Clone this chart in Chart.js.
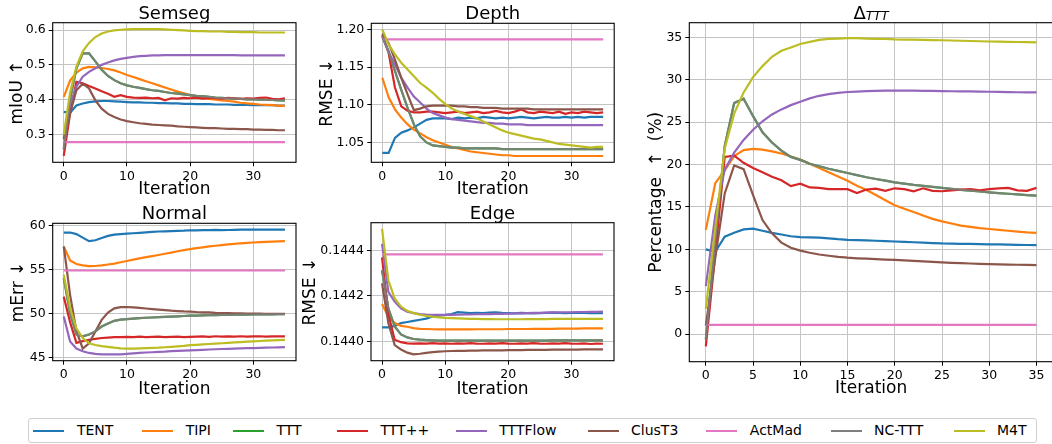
<!DOCTYPE html>
<html>
<head>
<meta charset="utf-8">
<script src="https://cdn.jsdelivr.net/npm/chart.js@4.4.0/dist/chart.umd.min.js"></script>
<style>
  html, body { margin: 0; padding: 0; width: 1052px; height: 444px; overflow: hidden; background: #fff; }
  .panel { position: absolute; }
  #legend { position: absolute; left: 28px; top: 418px; width: 1009px; height: 25px; border: 1px solid #d0d0d0; border-radius: 3px; box-sizing: border-box; font-family: "DejaVu Sans", sans-serif; font-size: 14px; color: #000; }
  .lg-line { position: absolute; top: 11px; width: 31px; height: 2px; }
  .lg-text { position: absolute; top: 3px; white-space: nowrap; }
</style>
</head>
<body>
<div id="legend"></div>
<script>
/* ---------- data ---------- */
const methods = ['TENT', 'TIPI', 'TTT', 'TTT++', 'TTTFlow', 'ClusT3', 'ActMad', 'NC-TTT', 'M4T'];
const lineColors = ['#1f77b4', '#ff7f0e', '#2ca02c', '#d62728', '#9467bd', '#8c564b', '#e377c2', 'rgba(127,127,127,0.86)', '#bcbd22'];
const legendColors = ['#1f77b4', '#ff7f0e', '#2ca02c', '#d62728', '#9467bd', '#8c564b', '#e377c2', '#7f7f7f', '#bcbd22'];

const iterations = [0,1,2,3,4,5,6,7,8,9,10,11,12,13,14,15,16,17,18,19,20,21,22,23,24,25,26,27,28,29,30,31,32,33,34,35];
const smallXTicks = [0, 10, 20, 30];
const deltaXTicks = [0, 5, 10, 15, 20, 25, 30, 35];
const semsegYTicks = [0.3, 0.4, 0.5, 0.6];
const depthYTicks = [1.05, 1.10, 1.15, 1.20];
const normalYTicks = [45, 50, 55, 60];
const edgeYTicks = [0.1440, 0.1442, 0.1444];
const deltaYTicks = [0, 5, 10, 15, 20, 25, 30, 35];

// Semseg (mIoU)
const semsegTent = [0.365,0.362,0.383,0.389,0.393,0.395,0.396,0.396,0.395,0.394,0.393,0.392,0.392,0.391,0.391,0.390,0.390,0.389,0.389,0.388,0.388,0.387,0.387,0.387,0.386,0.386,0.386,0.385,0.385,0.385,0.384,0.384,0.384,0.384,0.383,0.383];
const semsegTipi = [0.408,0.455,0.478,0.490,0.494,0.493,0.491,0.488,0.484,0.478,0.471,0.465,0.459,0.453,0.447,0.441,0.435,0.429,0.423,0.418,0.413,0.409,0.405,0.402,0.400,0.398,0.396,0.394,0.391,0.389,0.388,0.386,0.385,0.384,0.383,0.382];
const semsegTttpp = [0.238,0.360,0.451,0.447,0.439,0.432,0.424,0.417,0.408,0.413,0.408,0.406,0.405,0.406,0.404,0.405,0.398,0.404,0.403,0.405,0.404,0.406,0.403,0.405,0.404,0.403,0.405,0.404,0.402,0.404,0.403,0.405,0.406,0.402,0.401,0.404];
const semsegFlow = [0.290,0.385,0.437,0.466,0.480,0.490,0.500,0.507,0.513,0.517,0.520,0.523,0.525,0.526,0.527,0.527,0.528,0.528,0.528,0.528,0.528,0.528,0.528,0.528,0.528,0.528,0.528,0.528,0.527,0.527,0.527,0.527,0.527,0.527,0.527,0.527];
const semsegClus = [0.285,0.360,0.427,0.446,0.432,0.398,0.374,0.359,0.350,0.343,0.338,0.335,0.332,0.330,0.328,0.327,0.326,0.325,0.323,0.322,0.321,0.320,0.319,0.318,0.318,0.317,0.316,0.316,0.315,0.315,0.314,0.314,0.313,0.313,0.312,0.312];
const semsegActMad = [0.278,0.278,0.278,0.278,0.278,0.278,0.278,0.278,0.278,0.278,0.278,0.278,0.278,0.278,0.278,0.278,0.278,0.278,0.278,0.278,0.278,0.278,0.278,0.278,0.278,0.278,0.278,0.278,0.278,0.278,0.278,0.278,0.278,0.278,0.278,0.278];
const semsegNc = [0.257,0.400,0.490,0.533,0.533,0.510,0.486,0.468,0.456,0.447,0.441,0.437,0.434,0.430,0.427,0.425,0.422,0.419,0.417,0.415,0.413,0.411,0.410,0.408,0.406,0.405,0.404,0.403,0.402,0.401,0.401,0.400,0.399,0.399,0.398,0.398];
const semsegTtt = semsegNc; // TTT is hidden underneath NC-TTT
const semsegM4t = [0.300,0.420,0.495,0.539,0.563,0.580,0.590,0.596,0.599,0.601,0.602,0.603,0.603,0.603,0.603,0.603,0.602,0.601,0.600,0.599,0.598,0.597,0.597,0.596,0.596,0.596,0.595,0.595,0.594,0.594,0.594,0.593,0.593,0.593,0.593,0.593];

// Depth (RMSE)
const depthTent = [1.036,1.036,1.056,1.063,1.066,1.070,1.075,1.080,1.082,1.082,1.082,1.081,1.083,1.082,1.083,1.082,1.084,1.083,1.082,1.083,1.082,1.083,1.084,1.083,1.082,1.083,1.084,1.083,1.083,1.084,1.083,1.084,1.083,1.084,1.084,1.084];
const depthTipi = [1.136,1.110,1.094,1.083,1.074,1.067,1.062,1.057,1.053,1.050,1.047,1.044,1.042,1.040,1.038,1.037,1.036,1.035,1.034,1.033,1.033,1.032,1.032,1.032,1.032,1.032,1.032,1.032,1.032,1.032,1.032,1.032,1.032,1.032,1.032,1.032];
const depthTttpp = [1.193,1.169,1.123,1.098,1.092,1.090,1.090,1.091,1.091,1.090,1.089,1.090,1.091,1.089,1.090,1.091,1.089,1.090,1.092,1.090,1.089,1.091,1.094,1.090,1.089,1.091,1.090,1.089,1.091,1.088,1.090,1.089,1.091,1.090,1.089,1.090];
const depthFlow = [1.190,1.170,1.154,1.136,1.123,1.111,1.103,1.095,1.089,1.086,1.083,1.081,1.080,1.079,1.078,1.077,1.076,1.076,1.075,1.075,1.074,1.074,1.074,1.073,1.073,1.073,1.073,1.073,1.073,1.073,1.073,1.073,1.073,1.073,1.073,1.073];
const depthClus = [1.195,1.182,1.160,1.136,1.114,1.093,1.095,1.098,1.099,1.099,1.099,1.099,1.098,1.098,1.097,1.097,1.096,1.096,1.096,1.095,1.095,1.095,1.095,1.095,1.094,1.094,1.094,1.094,1.094,1.094,1.094,1.094,1.094,1.094,1.094,1.094];
const depthActMad = [1.187,1.187,1.187,1.187,1.187,1.187,1.187,1.187,1.187,1.187,1.187,1.187,1.187,1.187,1.187,1.187,1.187,1.187,1.187,1.187,1.187,1.187,1.187,1.187,1.187,1.187,1.187,1.187,1.187,1.187,1.187,1.187,1.187,1.187,1.187,1.187];
const depthNc = [1.191,1.171,1.145,1.120,1.096,1.074,1.058,1.050,1.046,1.045,1.044,1.043,1.043,1.042,1.042,1.042,1.042,1.042,1.042,1.041,1.041,1.041,1.041,1.041,1.041,1.041,1.041,1.041,1.041,1.041,1.041,1.041,1.041,1.041,1.041,1.041];
const depthTtt = depthNc;
const depthM4t = [1.200,1.180,1.167,1.156,1.147,1.138,1.129,1.123,1.116,1.108,1.101,1.095,1.091,1.088,1.085,1.082,1.078,1.074,1.070,1.066,1.063,1.061,1.059,1.057,1.055,1.054,1.052,1.050,1.048,1.047,1.046,1.045,1.044,1.043,1.044,1.044];

// Normal (mErr)
const normalTent = [59.18,59.18,59.0,58.6,58.2,58.3,58.55,58.8,58.95,59.0,59.06,59.1,59.15,59.2,59.25,59.3,59.32,59.35,59.38,59.4,59.44,59.42,59.45,59.45,59.48,59.45,59.47,59.48,59.5,59.5,59.5,59.52,59.5,59.5,59.51,59.51];
const normalTipi = [57.6,56.0,55.6,55.45,55.36,55.38,55.45,55.55,55.65,55.8,55.95,56.1,56.25,56.38,56.5,56.63,56.77,56.9,57.05,57.18,57.3,57.4,57.5,57.6,57.68,57.76,57.83,57.9,57.96,58.0,58.05,58.09,58.12,58.15,58.18,58.2];
const normalTttpp = [51.9,49.0,46.64,46.85,47.0,47.1,47.2,47.25,47.3,47.3,47.32,47.3,47.35,47.3,47.33,47.35,47.3,47.32,47.35,47.3,47.33,47.35,47.38,47.33,47.4,47.35,47.38,47.35,47.4,47.35,47.38,47.4,47.36,47.38,47.4,47.39];
const normalFlow = [49.64,46.8,46.0,45.7,45.5,45.4,45.35,45.33,45.33,45.35,45.4,45.45,45.5,45.55,45.58,45.62,45.65,45.7,45.73,45.77,45.8,45.83,45.86,45.89,45.92,45.95,45.97,46.0,46.02,46.04,46.06,46.08,46.1,46.12,46.14,46.16];
const normalClus = [57.6,52.1,48.0,46.0,46.6,47.95,49.26,50.1,50.57,50.7,50.72,50.68,50.62,50.55,50.48,50.42,50.36,50.3,50.26,50.22,50.2,50.15,50.12,50.1,50.06,50.04,50.02,50.0,49.99,49.98,49.97,49.96,49.95,49.95,49.94,49.94];
const normalActMad = [54.87,54.87,54.87,54.87,54.87,54.87,54.87,54.87,54.87,54.87,54.87,54.87,54.87,54.87,54.87,54.87,54.87,54.87,54.87,54.87,54.87,54.87,54.87,54.87,54.87,54.87,54.87,54.87,54.87,54.87,54.87,54.87,54.87,54.87,54.87,54.87];
const normalNc = [54.0,50.0,47.6,47.4,47.6,47.95,48.5,48.85,49.15,49.28,49.34,49.4,49.45,49.5,49.53,49.56,49.6,49.63,49.66,49.7,49.73,49.75,49.77,49.79,49.8,49.82,49.83,49.84,49.85,49.86,49.87,49.88,49.88,49.89,49.9,49.9];
const normalTtt = normalNc;
const normalM4t = [54.39,50.6,48.3,47.2,46.6,46.4,46.28,46.2,46.1,46.02,46.0,46.0,46.02,46.05,46.08,46.1,46.15,46.2,46.25,46.3,46.38,46.42,46.47,46.52,46.56,46.6,46.65,46.7,46.74,46.78,46.82,46.86,46.9,46.93,46.96,46.98];

// Edge (RMSE)
const edgeTent = [0.144061,0.144061,0.144068,0.144080,0.144085,0.144090,0.144095,0.144100,0.144109,0.144113,0.144116,0.144120,0.144128,0.144126,0.144124,0.144125,0.144124,0.144126,0.144127,0.144125,0.144124,0.144123,0.144125,0.144124,0.144123,0.144124,0.144125,0.144126,0.144125,0.144124,0.144125,0.144126,0.144125,0.144124,0.144124,0.144124];
const edgeTipi = [0.144164,0.144109,0.144080,0.144068,0.144064,0.144058,0.144055,0.144054,0.144053,0.144052,0.144052,0.144052,0.144052,0.144052,0.144052,0.144053,0.144053,0.144053,0.144053,0.144053,0.144054,0.144054,0.144054,0.144054,0.144055,0.144055,0.144055,0.144055,0.144056,0.144056,0.144056,0.144056,0.144057,0.144057,0.144057,0.144057];
const edgeTttpp = [0.144370,0.144120,0.144007,0.143996,0.143991,0.143990,0.143991,0.143990,0.143992,0.143990,0.143991,0.143989,0.143991,0.143990,0.143992,0.143990,0.143989,0.143991,0.143990,0.143992,0.143990,0.143989,0.143991,0.143990,0.143992,0.143990,0.143989,0.143991,0.143990,0.143992,0.143990,0.143989,0.143991,0.143988,0.143990,0.143989];
const edgeFlow = [0.144429,0.144218,0.144175,0.144145,0.144130,0.144124,0.144120,0.144118,0.144117,0.144116,0.144116,0.144116,0.144117,0.144118,0.144118,0.144119,0.144120,0.144120,0.144121,0.144121,0.144122,0.144123,0.144123,0.144124,0.144125,0.144125,0.144126,0.144127,0.144127,0.144128,0.144128,0.144129,0.144129,0.144130,0.144130,0.144131];
const edgeClus = [0.144255,0.144080,0.143983,0.143964,0.143950,0.143942,0.143945,0.143949,0.143952,0.143954,0.143956,0.143957,0.143958,0.143958,0.143959,0.143959,0.143960,0.143960,0.143960,0.143960,0.143961,0.143961,0.143961,0.143962,0.143962,0.143962,0.143962,0.143963,0.143963,0.143963,0.143963,0.143963,0.143964,0.143964,0.143964,0.143964];
const edgeActMad = [0.144383,0.144383,0.144383,0.144383,0.144383,0.144383,0.144383,0.144383,0.144383,0.144383,0.144383,0.144383,0.144383,0.144383,0.144383,0.144383,0.144383,0.144383,0.144383,0.144383,0.144383,0.144383,0.144383,0.144383,0.144383,0.144383,0.144383,0.144383,0.144383,0.144383,0.144383,0.144383,0.144383,0.144383,0.144383,0.144383];
const edgeNc = [0.144313,0.144145,0.144065,0.144030,0.144017,0.144010,0.144007,0.144005,0.144004,0.144003,0.144003,0.144003,0.144003,0.144003,0.144003,0.144003,0.144003,0.144003,0.144003,0.144003,0.144003,0.144003,0.144003,0.144003,0.144003,0.144003,0.144003,0.144004,0.144004,0.144004,0.144004,0.144004,0.144004,0.144004,0.144004,0.144004];
const edgeTtt = edgeNc;
const edgeM4t = [0.144495,0.144269,0.144189,0.144153,0.144134,0.144124,0.144117,0.144112,0.144108,0.144105,0.144103,0.144102,0.144101,0.144100,0.144099,0.144099,0.144098,0.144098,0.144097,0.144097,0.144097,0.144097,0.144097,0.144098,0.144098,0.144098,0.144098,0.144099,0.144099,0.144099,0.144099,0.144099,0.144099,0.144099,0.144099,0.144099];

// Delta_TTT (%)
const deltaTent = [10.0,9.72,11.5,11.97,12.36,12.44,12.2,11.95,11.75,11.55,11.45,11.42,11.38,11.3,11.2,11.13,11.1,11.06,11.02,10.97,10.93,10.88,10.84,10.8,10.75,10.7,10.68,10.66,10.64,10.62,10.6,10.58,10.56,10.54,10.52,10.5];
const deltaTipi = [12.3,17.8,19.3,21.0,21.7,21.85,21.75,21.55,21.3,20.95,20.6,20.1,19.6,19.1,18.6,18.1,17.5,17.0,16.4,15.8,15.2,14.8,14.4,14.0,13.6,13.3,13.05,12.8,12.65,12.5,12.4,12.3,12.2,12.1,12.0,11.95];
const deltaTttpp = [-1.42,9.5,20.9,21.05,20.2,19.6,19.1,18.55,18.15,17.45,17.75,17.3,17.25,17.1,17.1,17.1,16.65,17.05,17.15,16.9,17.2,17.1,16.85,17.2,16.9,16.85,16.95,17.05,17.1,16.95,17.1,17.2,17.25,16.95,16.9,17.25];
const deltaFlow = [5.67,14.0,19.4,21.4,22.9,24.1,25.1,25.9,26.5,27.0,27.4,27.8,28.1,28.3,28.45,28.55,28.6,28.65,28.68,28.7,28.7,28.7,28.7,28.68,28.67,28.65,28.64,28.63,28.62,28.6,28.58,28.56,28.54,28.52,28.5,28.5];
const deltaClus = [1.0,9.0,16.6,19.9,19.45,16.4,13.46,11.9,10.8,10.2,9.85,9.6,9.4,9.25,9.12,9.02,8.95,8.9,8.85,8.8,8.77,8.7,8.64,8.58,8.52,8.46,8.42,8.38,8.34,8.3,8.26,8.23,8.21,8.19,8.17,8.15];
const deltaActMad = [1.1,1.1,1.1,1.1,1.1,1.1,1.1,1.1,1.1,1.1,1.1,1.1,1.1,1.1,1.1,1.1,1.1,1.1,1.1,1.1,1.1,1.1,1.1,1.1,1.1,1.1,1.1,1.1,1.1,1.1,1.1,1.1,1.1,1.1,1.1,1.1];
const deltaNc = [-0.6,11.0,22.2,27.25,27.75,25.7,23.8,22.6,21.65,20.9,20.55,20.1,19.8,19.5,19.25,19.0,18.75,18.5,18.3,18.1,17.9,17.75,17.6,17.48,17.36,17.24,17.13,17.02,16.92,16.82,16.72,16.64,16.56,16.48,16.4,16.33];
const deltaTtt = deltaNc;
const deltaM4t = [3.0,12.5,21.9,26.0,28.5,30.3,31.6,32.7,33.4,33.8,34.2,34.45,34.7,34.8,34.85,34.9,34.9,34.85,34.8,34.8,34.75,34.73,34.71,34.69,34.67,34.65,34.62,34.59,34.56,34.53,34.5,34.48,34.46,34.44,34.42,34.4];

/* ---------- look ---------- */
const FONT = '"DejaVu Sans", sans-serif';
const TICK_SIZE = 12.5, LABEL_SIZE = 17, TITLE_SIZE = 18;
Chart.defaults.font.family = FONT;
Chart.defaults.color = '#000';

// frame (all four spines) + panel title, matplotlib style
const panelFrame = {
  id: 'panelFrame',
  afterDraw(chart, args, opts) {
    const { ctx, chartArea: a } = chart;
    ctx.save();
    ctx.strokeStyle = '#000';
    ctx.lineWidth = 1.1;
    ctx.strokeRect(a.left, a.top, a.right - a.left, a.bottom - a.top);
    ctx.fillStyle = '#000';
    ctx.textBaseline = 'alphabetic';
    const cx = (a.left + a.right) / 2, y = a.top - 4;
    ctx.font = `${TITLE_SIZE}px ${FONT}`;
    if (!opts.sub) {
      ctx.textAlign = 'center';
      ctx.fillText(opts.text, cx, y);
    } else {
      const w1 = ctx.measureText(opts.text).width;
      ctx.font = `italic 12.5px ${FONT}`;
      const w2 = ctx.measureText(opts.sub).width;
      const x0 = cx - (w1 + w2) / 2;
      ctx.textAlign = 'left';
      ctx.fillText(opts.sub, x0 + w1, y + 1.5);
      ctx.font = `${TITLE_SIZE}px ${FONT}`;
      ctx.fillText(opts.text, x0, y);
    }
    ctx.restore();
  }
};

function axisGrid() {
  return { color: '#c4c4c4', lineWidth: 1, drawTicks: true, tickLength: 4, tickColor: '#000', tickWidth: 1 };
}

function makePanel(p) {
  const left = Math.round(p.plot[0] - p.padL), top = Math.round(p.plot[1] - p.padT);
  const right = Math.round(p.plot[2] + 8), bottom = Math.round(p.plot[3] + p.padB);
  const padL = p.plot[0] - left, padT = p.plot[1] - top, padR = right - p.plot[2], padB = bottom - p.plot[3];

  const div = document.createElement('div');
  div.className = 'panel';
  Object.assign(div.style, { left: left + 'px', top: top + 'px', width: (right - left) + 'px', height: (bottom - top) + 'px' });
  const canvas = document.createElement('canvas');
  div.appendChild(canvas);
  document.body.appendChild(div);

  const all = p.series.flat();
  const lo = Math.min(...all), hi = Math.max(...all), m = (hi - lo) * 0.05;

  new Chart(canvas, {
    type: 'line',
    data: {
      datasets: methods.map((name, i) => ({
        label: name,
        data: iterations.map((x, k) => ({ x, y: p.series[i][k] })),
        borderColor: lineColors[i],
        backgroundColor: lineColors[i],
        borderWidth: 2.2,
        pointRadius: 0,
        tension: 0,
        fill: false,
        order: methods.length - i,
      })),
    },
    options: {
      responsive: true, maintainAspectRatio: false, animation: false, events: [],
      layout: { padding: { top: padT, right: padR, left: 0, bottom: 0 } },
      plugins: { legend: { display: false }, tooltip: { enabled: false }, panelFrame: { text: p.title, sub: p.sub } },
      scales: {
        x: {
          type: 'linear', min: -1.75, max: 36.75,
          afterBuildTicks: s => { s.ticks = p.xTicks.map(v => ({ value: v })); },
          afterFit: s => { s.height = padB; },
          ticks: { font: { size: TICK_SIZE }, color: '#000', padding: 3, maxRotation: 0, autoSkip: false, callback: v => String(v) },
          grid: axisGrid(),
          border: { display: false },
          title: { display: true, text: 'Iteration', font: { size: LABEL_SIZE }, color: '#000', padding: 0 },
        },
        y: {
          type: 'linear', min: lo - m, max: hi + m,
          afterBuildTicks: s => { s.ticks = p.yTicks.map(v => ({ value: v })); },
          afterFit: s => { s.width = padL; },
          ticks: { font: { size: TICK_SIZE }, color: '#000', padding: 3, autoSkip: false, callback: v => v.toFixed(p.decimals) },
          grid: axisGrid(),
          border: { display: false },
          title: { display: true, text: p.ylabel, font: { size: LABEL_SIZE }, color: '#000', padding: 0 },
        },
      },
    },
    plugins: [panelFrame],
  });
}

const panels = [
  { title: 'Semseg', ylabel: 'mIoU ↑', decimals: 1, xTicks: smallXTicks, yTicks: semsegYTicks,
    series: [semsegTent, semsegTipi, semsegTtt, semsegTttpp, semsegFlow, semsegClus, semsegActMad, semsegNc, semsegM4t],
    plot: [52.7, 22.7, 296, 162.3], padL: 46, padT: 22, padB: 37.3 },
  { title: 'Depth', ylabel: 'RMSE ↓', decimals: 2, xTicks: smallXTicks, yTicks: depthYTicks,
    series: [depthTent, depthTipi, depthTtt, depthTttpp, depthFlow, depthClus, depthActMad, depthNc, depthM4t],
    plot: [371.3, 23.3, 614.2, 162.3], padL: 54.6, padT: 22, padB: 37.3 },
  { title: 'Normal', ylabel: 'mErr ↓', decimals: 0, xTicks: smallXTicks, yTicks: normalYTicks,
    series: [normalTent, normalTipi, normalTtt, normalTttpp, normalFlow, normalClus, normalActMad, normalNc, normalM4t],
    plot: [52.7, 223.3, 296, 360.7], padL: 45, padT: 22, padB: 38.9 },
  { title: 'Edge', ylabel: 'RMSE ↓', decimals: 4, xTicks: smallXTicks, yTicks: edgeYTicks,
    series: [edgeTent, edgeTipi, edgeTtt, edgeTttpp, edgeFlow, edgeClus, edgeActMad, edgeNc, edgeM4t],
    plot: [371, 222.7, 614, 360.7], padL: 71.3, padT: 22, padB: 38.9 },
  { title: 'Δ', sub: 'TTT', ylabel: 'Percentage  ↑  (%)', decimals: 0, xTicks: deltaXTicks, yTicks: deltaYTicks,
    series: [deltaTent, deltaTipi, deltaTtt, deltaTttpp, deltaFlow, deltaClus, deltaActMad, deltaNc, deltaM4t],
    plot: [689.3, 22.7, 1053, 361.7], padL: 42.9, padT: 22, padB: 37.5 },
];
panels.forEach(makePanel);

/* ---------- legend ---------- */
const legendTextX = [75.9, 184.7, 275.4, 379.5, 498.3, 630, 748.8, 873, 996];
const legend = document.getElementById('legend');
methods.forEach((name, i) => {
  const tx = legendTextX[i] - 28;
  const line = document.createElement('div');
  line.className = 'lg-line';
  line.style.left = (tx - 43.5) + 'px';
  line.style.background = legendColors[i];
  const txt = document.createElement('div');
  txt.className = 'lg-text';
  txt.style.left = tx + 'px';
  txt.textContent = name;
  legend.appendChild(line);
  legend.appendChild(txt);
});
</script>
</body>
</html>
